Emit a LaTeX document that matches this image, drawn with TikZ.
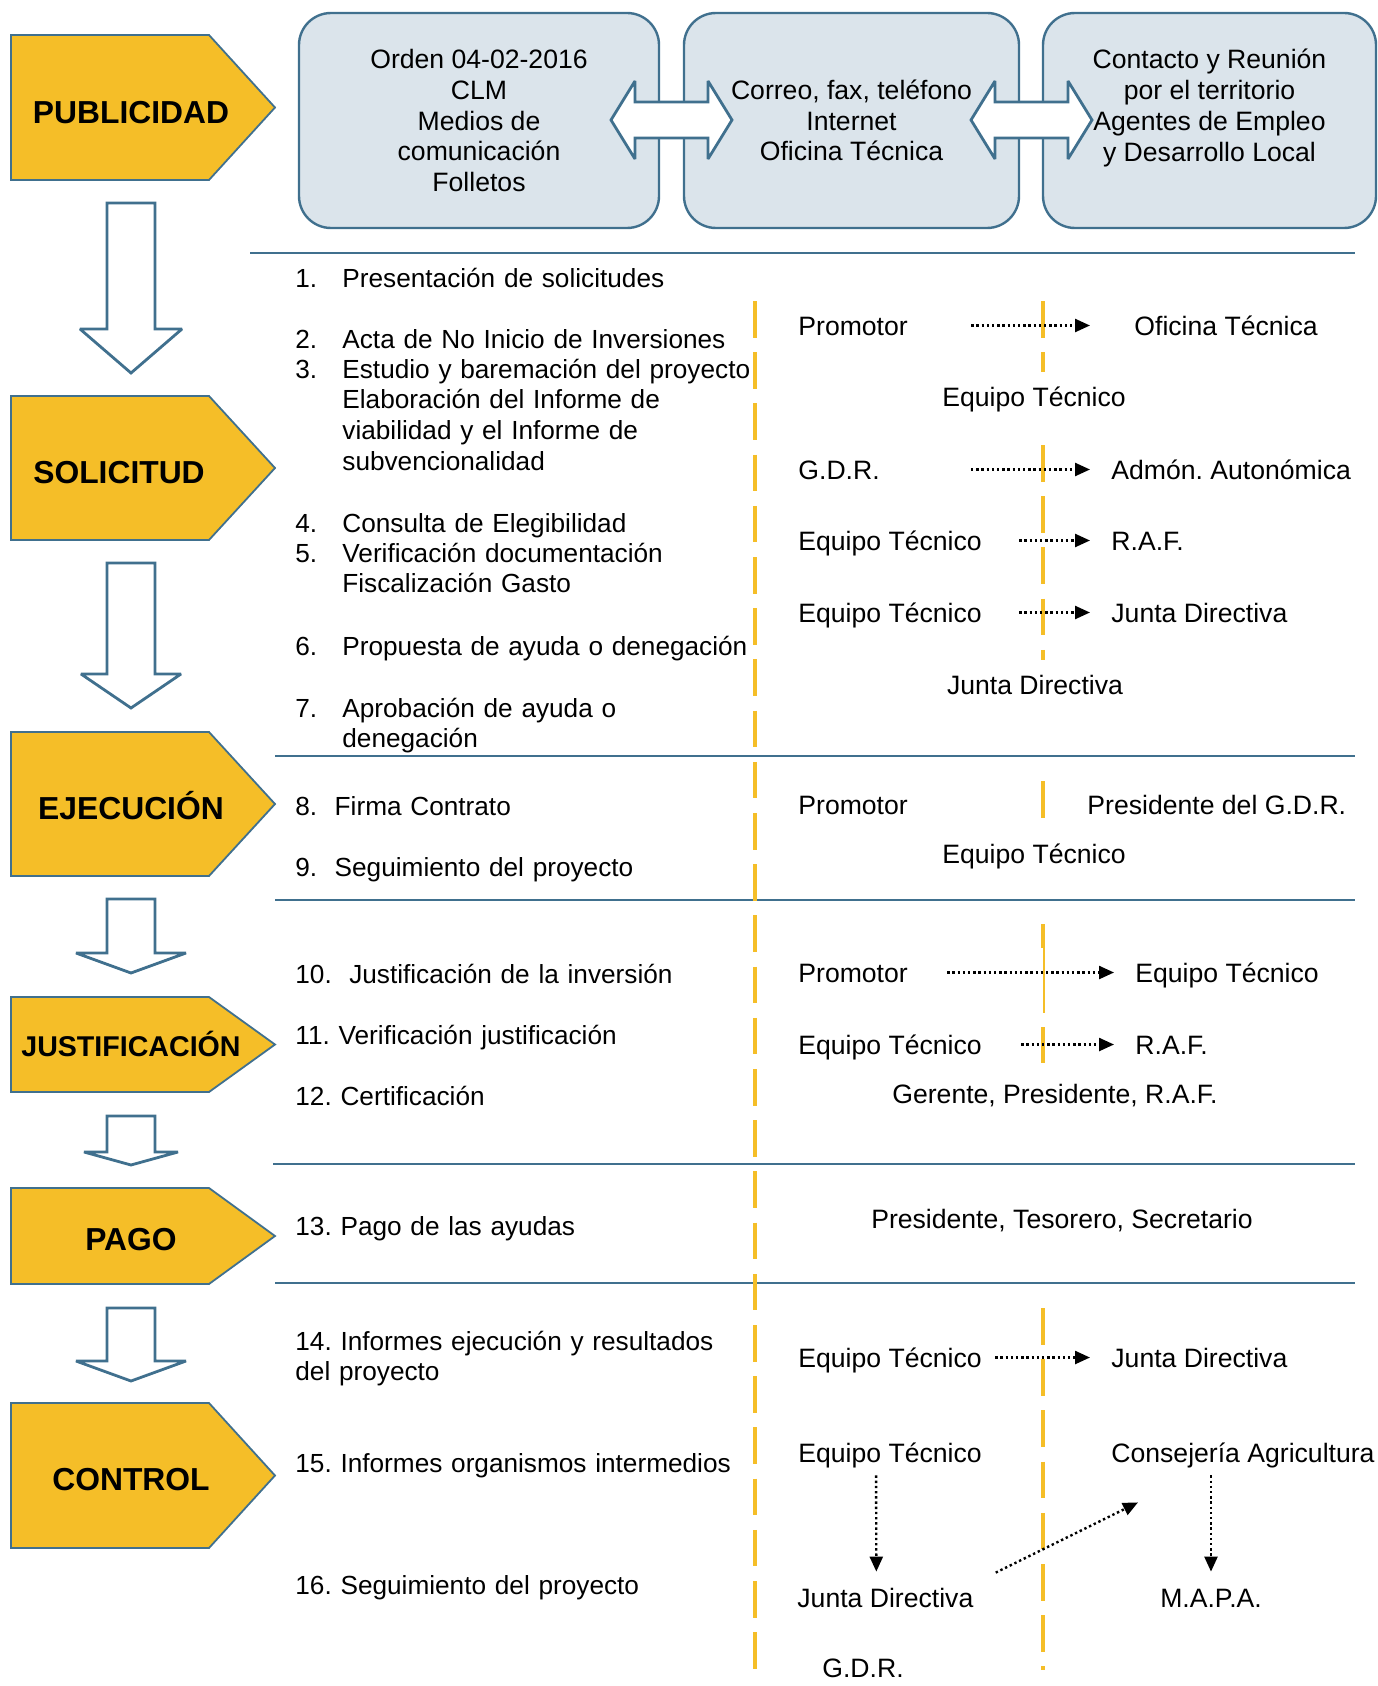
\documentclass[tikz,border=0pt]{standalone}
\usepackage{fontspec}
\setmainfont{Liberation Sans}
\usetikzlibrary{arrows.meta}
\definecolor{framecol}{RGB}{64,112,142}
\definecolor{goldcol}{RGB}{245,190,40}
\definecolor{boxcol}{RGB}{219,228,235}
\newcommand{\txtfont}{\fontsize{13.3pt}{15.4pt}\selectfont}
\newcommand{\itemfont}{\fontsize{13.1pt}{15.4pt}\selectfont}
\newcommand{\stagefont}{\fontsize{15.9pt}{18pt}\selectfont\bfseries}
\newcommand{\stageshape}[2]{\draw[stagebox] (11,#1) -- (209,#1) -- (275,{(#1+#2)/2}) -- (209,#2) -- (11,#2) -- cycle;}
\newcommand{\stagearrow}[4]{\draw[blockarrow] (107,#1) -- (155,#1) -- (155,#2) -- ({131+#3},#2) -- (131,#4) -- ({131-#3},#2) -- (107,#2) -- cycle;}
\newcommand{\twoway}[2]{\draw[blockarrow] (#1,120) -- ({#1+24},81) -- ({#1+24},102) -- ({#2-24},102) -- ({#2-24},81) -- (#2,120) -- ({#2-24},159) -- ({#2-24},138) -- ({#1+24},138) -- ({#1+24},159) -- cycle;}
\begin{document}
\frenchspacing
\begin{tikzpicture}[x=0.5pt, y=-0.5pt,
  stagebox/.style={draw=framecol, fill=goldcol, line width=0.9pt},
  stagelabel/.style={inner sep=0pt, font=\stagefont, text height=11.4pt, text depth=0pt},
  blockarrow/.style={draw=framecol, fill=white, line width=1.4pt, miter limit=2.5},
  infobox/.style={draw=framecol, fill=boxcol, line width=1.2pt, rounded corners=16pt, inner sep=0pt, align=center, font=\txtfont, minimum height=107.5pt},
  rule/.style={draw=framecol, line width=1.4pt},
  divider/.style={draw=goldcol, line width=2.2pt, dash pattern=on 18.3pt off 7.3pt},
  txt/.style={inner sep=0pt, font=\txtfont, text height=10pt, text depth=0.5pt, anchor=base west},
  num/.style={inner sep=0pt, font=\itemfont, anchor=base west},
  item/.style={inner sep=0pt, font=\itemfont, anchor=base west, align=left, text width=#1},
  flow/.style={draw, line width=1.2pt, dash pattern=on 1.2pt off 1.4pt, -{Triangle[length=7.5pt,width=6.5pt]}}]
\useasboundingbox (0,0) rectangle (1377,1686);

\stageshape{35}{180}
\stageshape{396}{540}
\stageshape{732}{876}
\stageshape{997}{1092}
\stageshape{1188}{1284}
\stageshape{1403}{1548}
\node[stagelabel] (publicidad) at (131,112) {PUBLICIDAD};
\node[stagelabel] (solicitud) at (119,472) {SOLICITUD};
\node[stagelabel] (ejecucion) at (131,808) {EJECUCIÓN};
\node[stagelabel, font=\fontsize{14.3pt}{16pt}\selectfont\bfseries, text height=10.2pt] (justificacion) at (131,1046) {JUSTIFICACIÓN};
\node[stagelabel] (pago) at (131,1239) {PAGO};
\node[stagelabel] (control) at (131,1479) {CONTROL};

\stagearrow{203}{329}{51}{373}
\stagearrow{563}{674}{50}{708}
\stagearrow{899}{953}{55}{973}
\stagearrow{1116}{1152}{47}{1165}
\stagearrow{1308}{1361}{55}{1381}

\node[infobox, minimum width=180pt] (medios) at (479,120.5)
     {Orden 04-02-2016\\CLM\\Medios de\\comunicación\\Folletos};
\node[infobox, minimum width=167.5pt] (correo) at (851.5,120.5)
     {Correo, fax, teléfono\\Internet\\Oficina Técnica};
\node[infobox, minimum width=166.5pt] (contacto) at (1209.5,120.5)
     {Contacto y Reunión\\por el territorio\\Agentes de Empleo\\y Desarrollo Local\\\mbox{}};
\twoway{611}{732}
\twoway{971}{1092}

\draw[rule] (250,253) -- (1355,253);
\draw[rule] (275,756) -- (1355,756);
\draw[rule] (275,900) -- (1355,900);
\draw[rule] (273,1164) -- (1355,1164);
\draw[rule] (275,1283) -- (1355,1283);

\draw[divider] (755,301) -- (755,1673);
\draw[divider] (1043,301) -- (1043,372);
\draw[divider] (1043,445) -- (1043,660);
\draw[divider] (1043,781) -- (1043,818);
\draw[divider] (1043,924) -- (1043,948);
\draw[goldcol, line width=0.8pt] (1044,948) -- (1044,1013);
\draw[divider] (1043,1027) -- (1043,1063);
\draw[divider] (1043,1308) -- (1043,1670);

\node[num] (n1) at (295,287) {1.};
\node[item=215pt] (t1) at (342,287) {Presentación de solicitudes};
\node[num] (n2) at (295,348) {2.};
\node[item=215pt] (t2) at (342,348) {Acta de No Inicio de Inversiones};
\node[num] (n3) at (295,378) {3.};
\node[item=215pt] (t3) at (342,378)
     {Estudio y baremación del proyecto\\Elaboración del Informe de\\viabilidad y el Informe de\\subvencionalidad};
\node[num] (n4) at (295,532) {4.};
\node[item=215pt] (t4) at (342,532) {Consulta de Elegibilidad};
\node[num] (n5) at (295,562) {5.};
\node[item=215pt] (t5) at (342,562) {Verificación documentación\\Fiscalización Gasto};
\node[num] (n6) at (295,655) {6.};
\node[item=215pt] (t6) at (342,655) {Propuesta de ayuda o denegación};
\node[num] (n7) at (295,717) {7.};
\node[item=215pt] (t7) at (342,717) {Aprobación de ayuda o\\denegación};
\node[item=225pt] (t8) at (295,815) {8.\ \ Firma Contrato};
\node[item=225pt] (t9) at (295,876) {9.\ \ Seguimiento del proyecto};
\node[item=225pt] (t10) at (295,983) {10.\ \ Justificación de la inversión};
\node[item=225pt] (t11) at (295,1044) {11. Verificación justificación};
\node[item=225pt] (t12) at (295,1105) {12. Certificación};
\node[item=225pt] (t13) at (295,1235) {13. Pago de las ayudas};
\node[item=225pt] (t14) at (295,1350) {14. Informes ejecución y resultados\\del proyecto};
\node[item=225pt] (t15) at (295,1472) {15. Informes organismos intermedios};
\node[item=225pt] (t16) at (295,1594) {16. Seguimiento del proyecto};

\node[txt] (prom1) at (798,335) {Promotor};
\node[txt] (ofi) at (1134,335) {Oficina Técnica};
\node[txt, anchor=base] (et1) at (1034,406) {Equipo Técnico};
\node[txt] (gdr1) at (798,479) {G.D.R.};
\node[txt] (admon) at (1111,479) {Admón. Autonómica};
\node[txt] (et2) at (798,550) {Equipo Técnico};
\node[txt] (raf1) at (1111,550) {R.A.F.};
\node[txt] (et3) at (798,622) {Equipo Técnico};
\node[txt] (jd1) at (1111,622) {Junta Directiva};
\node[txt, anchor=base] (jd2) at (1035,694) {Junta Directiva};
\node[txt] (prom2) at (798,814) {Promotor};
\node[txt] (pres) at (1087,814) {Presidente del G.D.R.};
\node[txt, anchor=base] (et4) at (1034,863) {Equipo Técnico};
\node[txt] (prom3) at (798,982) {Promotor};
\node[txt] (et5) at (1135,982) {Equipo Técnico};
\node[txt] (et6) at (798,1054) {Equipo Técnico};
\node[txt] (raf2) at (1135,1054) {R.A.F.};
\node[txt, anchor=base] (cert) at (1055,1103) {Gerente, Presidente, R.A.F.};
\node[txt, anchor=base] (firmas) at (1062,1228) {Presidente, Tesorero, Secretario};
\node[txt] (et7) at (798,1367) {Equipo Técnico};
\node[txt] (jd3) at (1111,1367) {Junta Directiva};
\node[txt] (et8) at (798,1462) {Equipo Técnico};
\node[txt] (cons) at (1111,1462) {Consejería Agricultura};
\node[txt] (jd4) at (797,1607) {Junta Directiva};
\node[txt, anchor=base] (mapa) at (1211,1607) {M.A.P.A.};
\node[txt, anchor=base] (gdr2) at (863,1677) {G.D.R.};

\path[flow] (prom1) edge [shorten <=31.5pt, shorten >=22pt] (ofi);
\path[flow] (gdr1) edge [shorten <=45.5pt, shorten >=10.5pt] (admon);
\path[flow] (et2) edge [shorten <=18.5pt, shorten >=10.5pt] (raf1);
\path[flow] (et3) edge [shorten <=18.5pt, shorten >=10.5pt] (jd1);
\path[flow] (prom3) edge [shorten <=19.5pt, shorten >=10.5pt] (et5);
\path[flow] (et6) edge [shorten <=19.5pt, shorten >=10.5pt] (raf2);
\path[flow] (et7) edge [shorten <=6.5pt, shorten >=10.5pt] (jd3);
\draw[flow, shorten <=6pt, shorten >=7.5pt] ([xshift=-7pt]et8.south) -- ([xshift=-4.5pt]jd4.north);
\draw[flow, shorten <=6pt, shorten >=7.5pt] (cons.south -| mapa.north) -- (mapa.north);
\draw[flow] ([shift={(11pt,7pt)}]jd4.north east) -- ([shift={(13.5pt,-19.5pt)}]cons.south west);
\end{tikzpicture}
\end{document}
